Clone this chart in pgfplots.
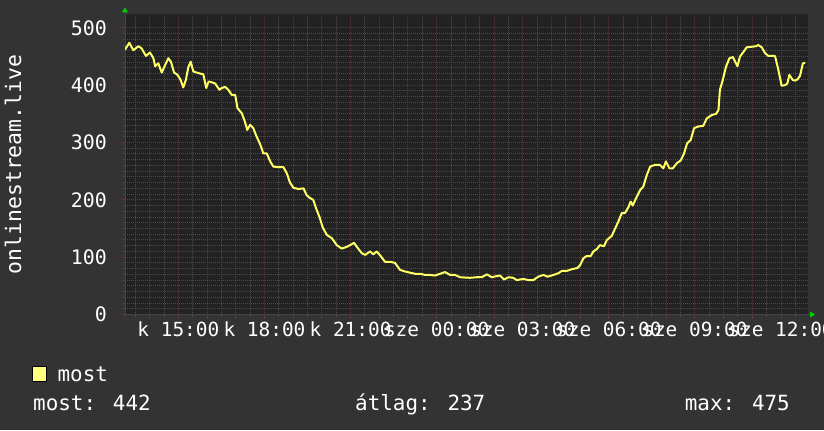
\documentclass[border=0pt]{standalone}
\usepackage{pgfplots}
\pgfplotsset{compat=1.18}
\usetikzlibrary{arrows.meta}
\usepackage{fontspec}
\setmainfont{DejaVu Sans Mono}
\setmonofont{DejaVu Sans Mono}
\definecolor{bgout}{HTML}{333333}
\definecolor{bgplot}{HTML}{222222}
\definecolor{gridmin}{HTML}{4C4C4C}
\definecolor{gridmaj}{HTML}{663232}
\definecolor{tickmaj}{HTML}{703434}
\definecolor{axisgrey}{HTML}{444444}
\definecolor{curve}{HTML}{FFFF66}
\definecolor{curvebox}{HTML}{FFFF80}
\definecolor{arrowg}{HTML}{00D000}
\pgfplotstableread{
t v
13.14 462
13.29 474
13.43 461
13.61 468
13.72 464
13.87 451
14.01 457
14.13 447
14.19 433
14.30 438
14.42 422
14.51 432
14.65 447
14.74 441
14.85 422
14.97 418
15.08 409
15.17 396
15.26 409
15.35 432
15.43 441
15.52 424
15.70 421
15.87 419
15.97 395
16.05 406
16.10 406
16.28 403
16.43 392
16.51 395
16.63 397
16.74 392
16.86 383
16.98 383
17.06 360
17.21 351
17.32 336
17.40 322
17.50 331
17.61 325
17.73 310
17.85 297
17.96 281
18.08 281
18.20 267
18.31 258
18.48 257
18.66 257
18.78 246
18.89 230
19.01 221
19.18 219
19.36 220
19.47 208
19.59 203
19.70 200
19.80 185
19.91 171
20.03 152
20.17 139
20.35 133
20.52 121
20.69 115
20.87 118
20.98 121
21.12 125
21.22 118
21.39 107
21.51 104
21.68 110
21.79 105
21.91 110
22.05 102
22.20 92
22.38 92
22.55 90
22.72 78
22.90 75
23.07 73
23.25 71
23.42 71
23.60 69
23.77 69
23.94 68
24.12 71
24.29 74
24.47 69
24.64 69
24.82 65
25.16 64
25.40 65
25.57 65
25.75 70
25.92 65
26.09 67
26.21 68
26.35 61
26.50 65
26.67 64
26.79 60
27.02 62
27.20 60
27.37 60
27.54 66
27.72 69
27.86 66
28.07 69
28.24 72
28.36 76
28.53 76
28.71 79
28.90 81
29.00 86
29.11 98
29.23 102
29.37 102
29.46 110
29.58 114
29.69 121
29.83 119
29.93 130
30.10 137
30.22 150
30.33 162
30.45 177
30.56 177
30.68 187
30.76 197
30.83 190
30.95 203
31.09 217
31.20 223
31.32 243
31.44 258
31.61 261
31.78 261
31.90 255
31.99 267
32.11 255
32.23 255
32.37 264
32.51 269
32.62 281
32.73 299
32.85 304
32.97 325
33.12 328
33.29 329
33.41 342
33.59 348
33.74 350
33.82 357
33.87 392
33.97 409
34.08 432
34.20 447
34.32 449
34.40 441
34.48 433
34.57 450
34.69 458
34.80 466
34.98 467
35.13 468
35.21 470
35.33 466
35.44 456
35.56 451
35.68 451
35.79 451
35.91 426
36.02 399
36.14 400
36.22 403
36.29 418
36.41 409
36.49 408
36.57 410
36.66 416
36.76 438
36.84 439
}\datatable
\begin{document}
\begin{tikzpicture}[x=1bp,y=1bp]
\path[use as bounding box] (0,0) rectangle (824,430);
\clip (0,0) rectangle (824,430);
\fill[bgout] (0,0) rectangle (824,430);
\begin{axis}[
  at={(125bp,115.5bp)}, anchor=south west,
  scale only axis, width=683bp, height=300bp,
  xmin=13.14, xmax=36.94, ymin=0, ymax=523.3,
  axis background/.style={fill=bgplot},
  axis x line*=bottom, axis y line*=left,
  axis line style={draw=axisgrey, line width=1bp},
  x axis line style={-{Triangle[length=5bp,width=6bp,color=arrowg]}, shorten >=-7bp},
  y axis line style={-{Triangle[length=5bp,width=6bp,color=arrowg]}, shorten >=-7bp},
  xtick={14,15,...,36},
  xticklabels={,k 15:00,,,k 18:00,,,k 21:00,,,sze 00:00,,,sze 03:00,,,sze 06:00,,,sze 09:00,,,sze 12:00},
  minor xtick={13.5,14.5,...,36.5},
  ytick={0,100,...,500},
  minor y tick num=9,
  grid=both,
  major grid style={draw=gridmaj, line width=1bp, dash pattern=on 1bp off 1bp},
  minor grid style={draw=gridmin, line width=1bp, dash pattern=on 1bp off 1bp},
  tick align=outside,
  major tick length=3bp, minor tick length=2bp,
  tick style={draw=tickmaj, line width=1bp},
  minor tick style={draw=gridmin},
  /pgf/number format/assume math mode=true,
  tick label style={text=white, inner sep=0pt},
  xticklabel style={font=\fontsize{19.5}{20}\selectfont, anchor=north},
  yticklabel style={font=\fontsize{20}{20}\selectfont, anchor=east},
  xticklabel shift=4.5bp,
  yticklabel shift=15bp,
  ylabel={onlinestream.live},
  every axis y label/.style={at={(axis description cs:-0.164,0.5)}, rotate=90, anchor=center, text=white, font=\fontsize{21.5}{22}\selectfont},
  legend style={at={(axis description cs:-0.137,-0.17)}, anchor=north west, draw=none, fill=none, text=white, font=\fontsize{21}{21}\selectfont, inner sep=0pt, nodes={inner sep=1bp}, /tikz/every odd column/.append style={column sep=10bp}},
  legend image code/.code={\draw[fill=curvebox, draw=black, line width=1bp] (0bp,-7bp) rectangle (14bp,8bp);},
]
\addplot[curve, line width=2bp, line join=round] table[x=t, y=v] {\datatable};
\addlegendentry{most}
\end{axis}
\node[anchor=base west, inner sep=0pt, text=white, font=\fontsize{21}{21}\selectfont] at (33,20) {most: 442};
\node[anchor=base west, inner sep=0pt, text=white, font=\fontsize{21}{21}\selectfont] at (355,20) {átlag: 237};
\node[anchor=base east, inner sep=0pt, text=white, font=\fontsize{21}{21}\selectfont] at (790,20) {max: 475};
\end{tikzpicture}
\end{document}
